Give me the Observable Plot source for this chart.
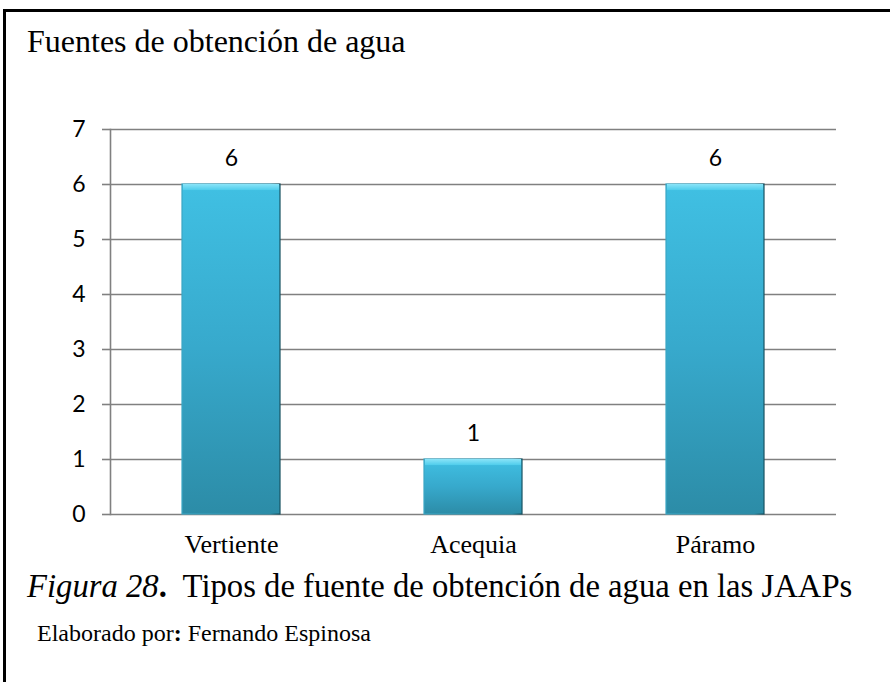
<!DOCTYPE html>
<html>
<head>
<meta charset="utf-8">
<script src="https://cdn.jsdelivr.net/npm/d3@7"></script>
<script src="https://cdn.jsdelivr.net/npm/@observablehq/plot@0.6"></script>
<style>
  html, body { margin: 0; padding: 0; background: #fff; }
  #wrap { position: relative; width: 890px; height: 682px; overflow: hidden; background: #fff; }
  #box { position: absolute; left: 3px; top: 9px; width: 1000px; height: 1000px; border-left: 3px solid #000; border-top: 3px solid #000; }
  #title { position: absolute; left: 27px; top: 25px; font-family: "Liberation Serif", "Times New Roman", serif; font-size: 32px; line-height: 1; color: #000; white-space: nowrap; }
  #chart { position: absolute; left: 0; top: 0; }
  #caption { position: absolute; left: 27px; top: 570px; font-family: "Liberation Serif", "Times New Roman", serif; font-size: 32.7px; line-height: 1; color: #000; white-space: nowrap; }
  #credit { position: absolute; left: 37px; top: 621px; font-family: "Liberation Serif", "Times New Roman", serif; font-size: 24px; line-height: 1; color: #000; white-space: nowrap; }
</style>
</head>
<body>
<div id="wrap">
  <div id="box"></div>
  <div id="title">Fuentes de obtención de agua</div>
  <div id="chart"></div>
  <div id="caption"><i>Figura 28</i><b>.</b>&nbsp; Tipos de fuente de obtención de agua en las JAAPs</div>
  <div id="credit">Elaborado por<b>:</b> Fernando Espinosa</div>
</div>
<script>
const categories = ["Vertiente", "Acequia", "Páramo"];
const values = [6, 1, 6];
const yTicks = [0, 1, 2, 3, 4, 5, 6, 7];

const data = categories.map((c, i) => ({cat: c, value: values[i]}));
const numFont = "Lato, 'Open Sans', sans-serif";

const plot = Plot.plot({
  width: 890,
  height: 570,
  marginLeft: 110,
  marginRight: 54,
  marginTop: 129,
  marginBottom: 56,
  style: {background: "transparent", overflow: "visible", fontFamily: numFont, fontSize: "23px"},
  x: {domain: categories, paddingInner: 0.595, paddingOuter: 0.2975, label: null},
  y: {domain: [0, 7], label: null},
  marks: [
    Plot.ruleY(yTicks, {stroke: "#808080", strokeWidth: 1.6}),
    Plot.frame({anchor: "left", stroke: "#808080", strokeWidth: 1.6}),
    Plot.barY(data, {x: "cat", y: "value", fill: "url(#barGrad)", stroke: "url(#edgeGrad)", strokeWidth: 1.2}),
    Plot.barY(data, {x: "cat", y1: d => d.value - 0.11, y2: "value", fill: "url(#bevelGrad)", insetLeft: 1, insetRight: 1}),
    Plot.text(data, {x: "cat", y: "value", text: d => String(d.value), dy: -26, fontSize: 23, fontFamily: numFont, fill: "#000"}),
    Plot.axisY({ticks: yTicks, tickSize: 8, tickPadding: 17, stroke: "#808080", strokeWidth: 1.6, fontSize: 23, fontFamily: numFont, fill: "#000", tickFormat: d => String(d), label: null}),
    Plot.axisX({tickSize: 0, tickPadding: 20, fontSize: 26, fontFamily: "'Liberation Serif', 'Times New Roman', serif", fill: "#000", label: null})
  ]
});

// gradient definitions for the bars
const ns = "http://www.w3.org/2000/svg";
const defs = document.createElementNS(ns, "defs");
defs.innerHTML = `
  <linearGradient id="barGrad" x1="0" y1="0" x2="0" y2="1">
    <stop offset="0" stop-color="#40c0e3"/>
    <stop offset="0.5" stop-color="#37a9cc"/>
    <stop offset="1" stop-color="#2c8ca7"/>
  </linearGradient>
  <linearGradient id="bevelGrad" x1="0" y1="0" x2="0" y2="1">
    <stop offset="0" stop-color="#8ae4f8"/>
    <stop offset="1" stop-color="#4fcdec"/>
  </linearGradient>
  <linearGradient id="edgeGrad" x1="0" y1="0" x2="1" y2="0">
    <stop offset="0" stop-color="#3aa6c4"/>
    <stop offset="0.9" stop-color="#2b8ca7"/>
    <stop offset="1" stop-color="#16505f"/>
  </linearGradient>`;
plot.insertBefore(defs, plot.firstChild);

document.getElementById("chart").appendChild(plot);
</script>
</body>
</html>
